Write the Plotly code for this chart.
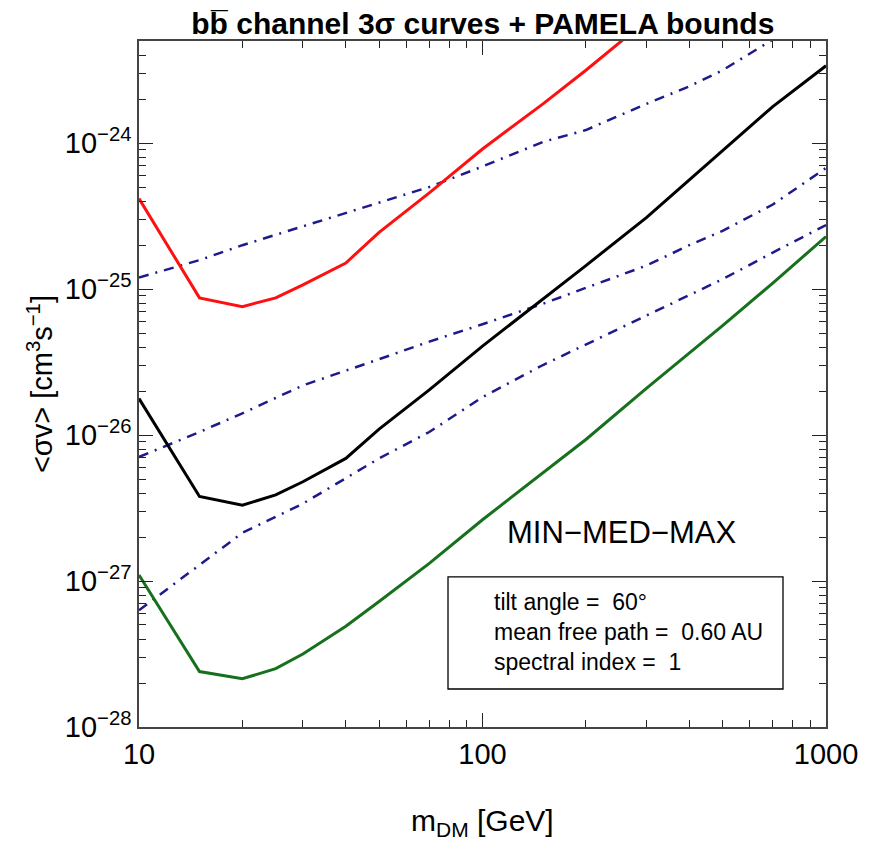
import numpy as np
import plotly.graph_objects as go

# dark matter mass points (GeV)
mass = [10, 15, 20, 25, 30, 40, 50, 70, 100, 150, 200, 300, 400, 500, 700, 1000]
mass_red = [10, 15, 20, 25, 30, 40, 50, 70, 100, 150, 200, 300]

# 3 sigma curves <sigma v> [cm^3 s^-1]
sv_max = [4.17e-25, 8.71e-26, 7.59e-26, 8.71e-26, 1.07e-25, 1.51e-25, 2.45e-25,
          4.57e-25, 9.12e-25, 1.86e-24, 3.16e-24, 6.92e-24]
sv_med = [1.78e-26, 3.80e-27, 3.31e-27, 3.89e-27, 4.79e-27, 6.92e-27, 1.10e-26,
          2.04e-26, 4.07e-26, 8.51e-26, 1.45e-25, 3.09e-25, 5.62e-25, 8.91e-25,
          1.78e-24, 3.39e-24]
sv_min = [1.10e-27, 2.40e-28, 2.14e-28, 2.51e-28, 3.16e-28, 4.90e-28, 7.24e-28,
          1.32e-27, 2.63e-27, 5.50e-27, 9.33e-27, 2.09e-26, 3.63e-26, 5.62e-26,
          1.10e-25, 2.29e-25]

# PAMELA bounds
mass_pam = [10, 15, 20, 30, 50, 70, 100, 150, 200, 300, 400, 500, 700, 1000]
pam_max = [1.20e-25, 1.58e-25, 2.00e-25, 2.69e-25, 3.89e-25, 5.01e-25, 6.92e-25,
           1.02e-24, 1.23e-24, 1.86e-24, 2.45e-24, 3.16e-24, 5.13e-24, 8.51e-24]
pam_med = [7.08e-27, 1.05e-26, 1.41e-26, 2.19e-26, 3.31e-26, 4.37e-26, 5.75e-26,
           7.94e-26, 1.02e-25, 1.45e-25, 2.00e-25, 2.51e-25, 3.80e-25, 6.76e-25]
pam_min = [6.31e-28, 1.29e-27, 2.14e-27, 3.39e-27, 6.92e-27, 1.05e-26, 1.82e-26,
           3.02e-26, 4.17e-26, 6.61e-26, 9.12e-26, 1.17e-25, 1.78e-25, 2.75e-25]

y_decades = [-28, -27, -26, -25, -24]
x_ticks = [10, 100, 1000]

FONT = "Liberation Sans, Arial, Helvetica, sans-serif"
BLUE = "#1e1a8c"
DASHDOT = "10px,7px,2px,7px"

fig = go.Figure()

for yv in [pam_max, pam_med, pam_min]:
    fig.add_trace(go.Scatter(x=mass_pam, y=yv, mode="lines",
                             line=dict(color=BLUE, width=2.5, dash=DASHDOT)))

fig.add_trace(go.Scatter(x=mass_red, y=sv_max, mode="lines",
                         line=dict(color="#ff1010", width=3)))
fig.add_trace(go.Scatter(x=mass, y=sv_med, mode="lines",
                         line=dict(color="black", width=3)))
fig.add_trace(go.Scatter(x=mass, y=sv_min, mode="lines",
                         line=dict(color="#17701c", width=3)))

minor_x = [k * 10 ** e for e in (1, 2) for k in range(2, 10)]
minor_y = [k * 10.0 ** e for e in range(-28, -23) for k in range(2, 10)]

axis_common = dict(
    type="log", showgrid=False, zeroline=False, automargin=False,
    showline=True, linecolor="#444", linewidth=1.5, mirror="ticks",
    ticks="inside", ticklen=14, tickwidth=1.2, tickcolor="#222",
    tickfont=dict(family=FONT, size=29, color="black"),
)

fig.update_xaxes(
    **axis_common,
    range=[1, 3],
    tickvals=x_ticks, ticktext=[str(v) for v in x_ticks],
    minor=dict(ticks="inside", ticklen=7, tickvals=minor_x, tickcolor="#222"),
)
fig.update_yaxes(
    **axis_common,
    range=[-28, -23.30],
    tickvals=[10.0 ** d for d in y_decades],
    ticktext=["10<sup>\u2212%d</sup>" % (-d) for d in y_decades],
    minor=dict(ticks="inside", ticklen=7, tickvals=minor_y, tickcolor="#222"),
)

# axis titles
fig.add_annotation(xref="paper", yref="paper", x=0.5, y=-0.1385,
                   xanchor="center", yanchor="middle", showarrow=False,
                   text="m<sub>DM</sub> [GeV]",
                   font=dict(family=FONT, size=30, color="black"))
fig.add_annotation(xref="paper", yref="paper", x=-0.144, y=0.5,
                   xanchor="center", yanchor="middle", showarrow=False, textangle=-90,
                   text="<\u03c3v> [cm<sup>3</sup>s<sup>\u22121</sup>]",
                   font=dict(family=FONT, size=29, color="black"))

fig.add_shape(type="rect", xref="paper", yref="paper",
              x0=0.4498, x1=0.9374, y0=0.0554, y1=0.2187,
              line=dict(color="black", width=1.3), fillcolor="white", layer="above")

fig.add_annotation(xref="paper", yref="paper", x=0.514, y=0.1385,
                   xanchor="left", yanchor="middle", align="left", showarrow=False,
                   text="tilt angle =  60\u00b0<br>mean free path =  0.60 AU<br>spectral index =  1",
                   font=dict(family=FONT, size=23, color="black"))

fig.add_annotation(xref="paper", yref="paper", x=0.703, y=0.283,
                   xanchor="center", yanchor="middle", showarrow=False,
                   text="MIN\u2212MED\u2212MAX",
                   font=dict(family=FONT, size=31, color="black"))

# page body adds an 8px offset, so the figure is 8px smaller on each side
fig.update_layout(
    width=868, height=833,
    margin=dict(l=131, r=50, t=33, b=114),
    paper_bgcolor="white", plot_bgcolor="white",
    showlegend=False,
    title=dict(text="<b>bb\u0305 channel 3\u03c3 curves + PAMELA bounds</b>",
               x=0.547, xanchor="center", y=0.982, yanchor="middle",
               font=dict(family=FONT, size=30, color="black")),
)

fig.write_html("out.html")
